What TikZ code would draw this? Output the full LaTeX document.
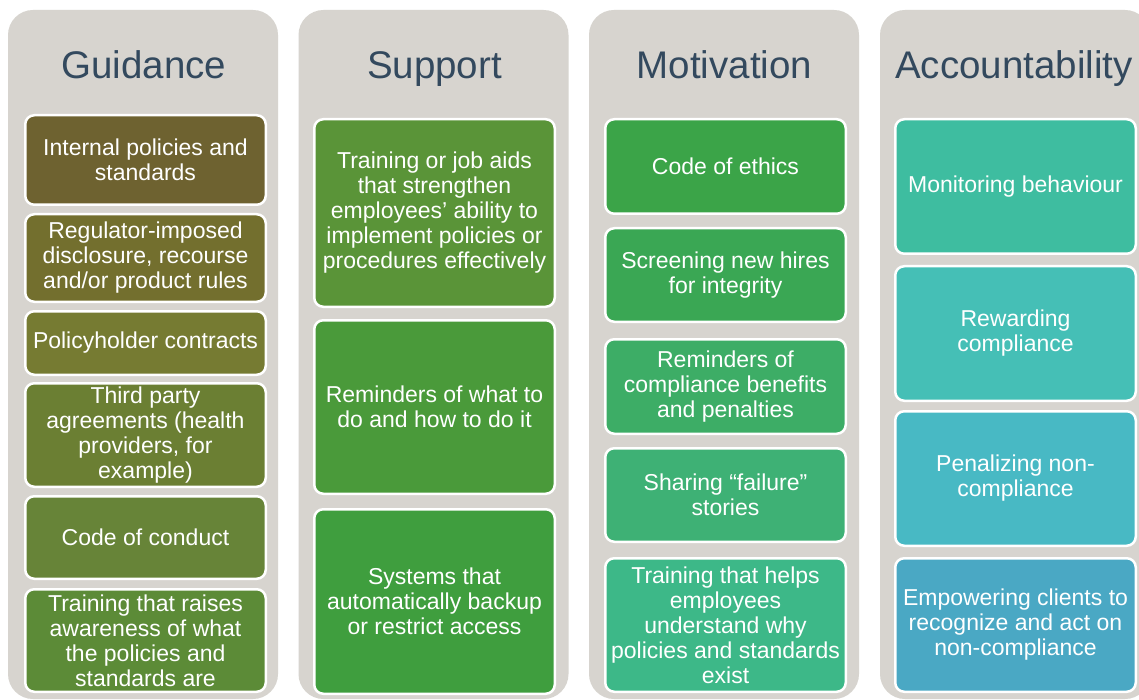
\documentclass[tikz,border=0pt]{standalone}
\usepackage{fontspec}
\setmainfont{Liberation Sans}
\definecolor{colgrey}{HTML}{D7D4CF}
\definecolor{titleblue}{HTML}{33495E}
\definecolor{ga}{HTML}{6E6230}
\definecolor{gb}{HTML}{736F2E}
\definecolor{gc}{HTML}{767B32}
\definecolor{gd}{HTML}{6B7F33}
\definecolor{ge}{HTML}{678438}
\definecolor{gf}{HTML}{5C8B37}
\definecolor{sa}{HTML}{5A9438}
\definecolor{sb}{HTML}{4A9A3A}
\definecolor{sc}{HTML}{3F9E3E}
\definecolor{ma}{HTML}{3BA448}
\definecolor{mb}{HTML}{3AA754}
\definecolor{mc}{HTML}{3DAD66}
\definecolor{md}{HTML}{3EB175}
\definecolor{me}{HTML}{3DB888}
\definecolor{aa}{HTML}{3EBDA0}
\definecolor{ab}{HTML}{45BFB6}
\definecolor{ac}{HTML}{48B9C4}
\definecolor{ad}{HTML}{4AA8C4}
\tikzset{
  colbox/.style={fill=colgrey, draw=none, rounded corners=25pt, minimum width=270pt, minimum height=689pt, inner sep=0pt},
  coltitle/.style={text=titleblue, font=\fontsize{38.5}{40}\selectfont, anchor=base, inner sep=0pt},
  itembox/.style={draw=white, line width=2.5pt, rounded corners=9pt, minimum width=240.5pt, inner sep=0pt, text=white, align=center, font=\fontsize{23}{25}\selectfont}
}
\newcommand{\mybox}[6]{\node[itembox, fill=#5, minimum height={#4-#3-2.5}] (#1) at (#2,{(#3+#4)/2}) {#6};}
\begin{document}
\begin{tikzpicture}[x=1pt,y=-1pt]
\useasboundingbox (0,0) rectangle (1139,700);
\clip (0,0) rectangle (1139,700);
\fill[white] (0,0) rectangle (1139,700);
% columns
\node[colbox] (c1) at (143,354.5) {};
\node[colbox] (c2) at (433.5,354.5) {};
\node[colbox] (c3) at (724,354.5) {};
\node[colbox] (c4) at (1015,354.5) {};
% titles
\node[coltitle] (t1) at (144,79) {Guidance};
\node[coltitle] (t2) at (434.5,79) {Support};
\node[coltitle] (t3) at (724.5,79) {Motivation};
\node[coltitle] (t4) at (1014,79) {Accountability};
% Guidance
\mybox{g1}{145.5}{114}{206}{ga}{Internal policies and\\standards}
\mybox{g2}{145.5}{213}{303}{gb}{Regulator-imposed\\disclosure, recourse\\and/or product rules}
\mybox{g3}{145.5}{310}{376}{gc}{Policyholder contracts}
\mybox{g4}{145.5}{382}{488}{gd}{Third party\\agreements (health\\providers, for\\example)}
\mybox{g5}{145.5}{495}{580}{ge}{Code of conduct}
\mybox{g6}{145.5}{588}{693}{gf}{Training that raises\\awareness of what\\the policies and\\standards are}
% Support
\mybox{s1}{434.5}{118}{308}{sa}{Training or job aids\\that strengthen\\employees’ ability to\\implement policies or\\procedures effectively}
\mybox{s2}{434.5}{319}{495}{sb}{Reminders of what to\\do and how to do it}
\mybox{s3}{434.5}{508}{695}{sc}{Systems that\\automatically backup\\or restrict access}
% Motivation
\mybox{m1}{725.5}{118}{215}{ma}{Code of ethics}
\mybox{m2}{725.5}{227}{323}{mb}{Screening new hires\\for integrity}
\mybox{m3}{725.5}{338}{435}{mc}{Reminders of\\compliance benefits\\and penalties}
\mybox{m4}{725.5}{447}{543}{md}{Sharing “failure”\\stories}
\mybox{m5}{725.5}{557}{693}{me}{Training that helps\\employees\\understand why\\policies and standards\\exist}
% Accountability
\mybox{a1}{1015.5}{118}{255}{aa}{Monitoring behaviour}
\mybox{a2}{1015.5}{265}{402}{ab}{Rewarding\\compliance}
\mybox{a3}{1015.5}{410}{547}{ac}{Penalizing non-\\compliance}
\mybox{a4}{1015.5}{557}{693}{ad}{Empowering clients to\\recognize and act on\\non-compliance}
\end{tikzpicture}
\end{document}
